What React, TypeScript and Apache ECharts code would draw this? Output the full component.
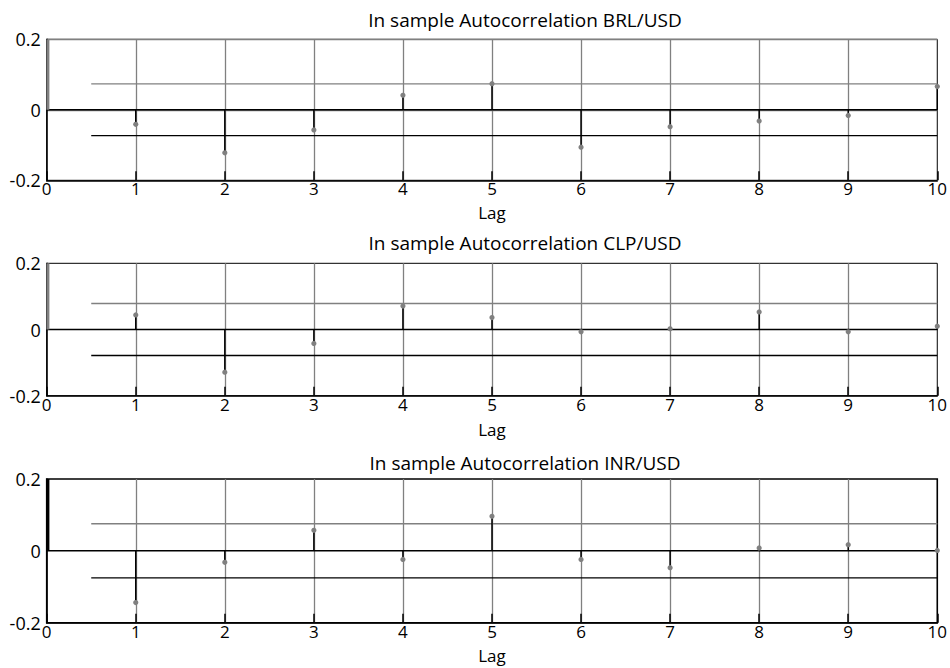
import React, { useEffect, useRef } from "react";
import * as echarts from "echarts";

const lags = [0, 1, 2, 3, 4, 5, 6, 7, 8, 9, 10];
const brl = [1, -0.041, -0.122, -0.057, 0.041, 0.074, -0.106, -0.048, -0.032, -0.016, 0.066];
const clp = [1, 0.044, -0.129, -0.042, 0.071, 0.036, -0.007, 0.002, 0.053, -0.007, 0.01];
const inr = [1, -0.144, -0.032, 0.057, -0.024, 0.096, -0.024, -0.047, 0.008, 0.017, 0.001];
const bands = [0.0735, 0.0785, 0.0755];
const titles = [
  "In sample Autocorrelation BRL/USD",
  "In sample Autocorrelation CLP/USD",
  "In sample Autocorrelation INR/USD",
];
const xTicks = { min: 0, max: 10, interval: 1 };
const yTicks = { min: -0.2, max: 0.2, interval: 0.2 };
const bandStart = 0.5;

const FONT = "Open Sans";
const GREY = "#808080";

export default function App() {
  const ref = useRef<HTMLDivElement>(null);
  useEffect(() => {
    if (!ref.current) return;
    const chart = echarts.init(ref.current, null, { renderer: "svg" });
    const series = [brl, clp, inr];
    const grids = [
      { left: 46.7, top: 39.3, width: 893.3, height: 141 },
      { left: 46.7, top: 263.3, width: 893.3, height: 132.4 },
      { left: 46.7, top: 479, width: 893.3, height: 143.7 },
    ];
    const titleY = [19.5, 243, 463];
    const nameGaps = [24, 26, 25];
    const lag0Colors = [GREY, GREY, "#000"];

    const option: any = {
      animation: false,
      backgroundColor: "#fff",
      textStyle: { fontFamily: FONT },
      grid: grids.map((g, i) => ({
        ...g,
        show: true,
        borderColor: "#000",
        borderWidth: i === 2 ? 1.6 : 1,
        backgroundColor: "transparent",
      })),
      graphic: titles.map((t, i) => ({
        type: "text",
        x: 525,
        y: titleY[i],
        style: {
          text: t,
          textAlign: "center",
          textVerticalAlign: "middle",
          font: `19px "${FONT}"`,
          fill: "#000",
        },
      })),
      xAxis: grids.map((_, i) => ({
        gridIndex: i,
        type: "value",
        min: xTicks.min,
        max: xTicks.max,
        interval: xTicks.interval,
        z: 1,
        name: "Lag",
        nameLocation: "middle",
        nameGap: nameGaps[i],
        nameTextStyle: { fontSize: 17, lineHeight: 16, color: "#000", fontFamily: FONT },
        axisLine: { show: true, onZero: false, lineStyle: { color: "#000", width: 1.5 } },
        axisTick: { show: true, inside: true, length: 9, lineStyle: { color: "#000", width: 1.5 } },
        axisLabel: {
          fontSize: 17,
          lineHeight: 15,
          color: "#000",
          margin: 1,
          fontFamily: FONT,
          showMinLabel: true,
          showMaxLabel: true,
        },
        splitLine: {
          show: true,
          showMinLine: false,
          showMaxLine: false,
          lineStyle: { color: GREY, width: 1.3 },
        },
      })),
      yAxis: grids.map((_, i) => ({
        gridIndex: i,
        type: "value",
        min: yTicks.min,
        max: yTicks.max,
        interval: yTicks.interval,
        z: 1,
        axisLine: { show: true, onZero: false, lineStyle: { color: "#000", width: 1.5 } },
        axisTick: { show: false },
        axisLabel: {
          fontSize: 18,
          color: "#000",
          margin: 6,
          fontFamily: FONT,
          padding: [0, 0, 6, 0],
          formatter: (v: number) => (Math.abs(v) < 1e-9 ? "0" : String(Math.round(v * 10) / 10)),
        },
        splitLine: {
          show: i === 0,
          showMinLine: false,
          lineStyle: { color: GREY, width: 1.3 },
        },
      })),
      series: [] as any[],
    };

    series.forEach((vals, i) => {
      const band = bands[i];
      option.series.push({
        type: "line",
        xAxisIndex: i,
        yAxisIndex: i,
        data: [
          [xTicks.min, 0],
          [xTicks.max, 0],
        ],
        symbol: "none",
        lineStyle: { color: "#000", width: 1.5 },
        z: 2,
        silent: true,
      });
      option.series.push({
        type: "line",
        xAxisIndex: i,
        yAxisIndex: i,
        data: [
          [bandStart, band],
          [xTicks.max, band],
        ],
        symbol: "none",
        lineStyle: { color: GREY, width: 1.3 },
        z: 2,
        silent: true,
      });
      option.series.push({
        type: "line",
        xAxisIndex: i,
        yAxisIndex: i,
        data: [
          [bandStart, -band],
          [xTicks.max, -band],
        ],
        symbol: "none",
        lineStyle: { color: "#000", width: 1.3 },
        z: 2,
        silent: true,
      });
      option.series.push({
        type: "custom",
        xAxisIndex: i,
        yAxisIndex: i,
        clip: false,
        z: 5,
        data: lags.map((l, k) => [l, vals[k]]),
        renderItem: (params: any, api: any) => {
          const x = api.value(0);
          const y = api.value(1);
          const cs = params.coordSys;
          const p0 = api.coord([x, 0]);
          const p1 = api.coord([x, y]);
          const top = cs.y;
          const bottom = cs.y + cs.height;
          const yc = Math.max(top, Math.min(bottom, p1[1]));
          const inside = p1[1] >= top - 0.5 && p1[1] <= bottom + 0.5;
          const isLag0 = params.dataIndex === 0;
          const dx = isLag0 ? 1.2 : 0;
          const children: any[] = [
            {
              type: "line",
              shape: { x1: p0[0] + dx, y1: p0[1], x2: p1[0] + dx, y2: yc },
              style: { stroke: isLag0 ? lag0Colors[i] : "#000", lineWidth: isLag0 ? 3 : 1.5 },
            },
          ];
          if (inside) {
            children.push({
              type: "circle",
              shape: { cx: p1[0], cy: p1[1], r: 2.6 },
              style: { fill: GREY },
            });
          }
          return { type: "group", children };
        },
      });
    });

    chart.setOption(option);
    return () => chart.dispose();
  }, []);

  return (
    <div
      ref={ref}
      style={{ position: "absolute", left: 0, top: 0, width: 950, height: 668 }}
    />
  );
}
